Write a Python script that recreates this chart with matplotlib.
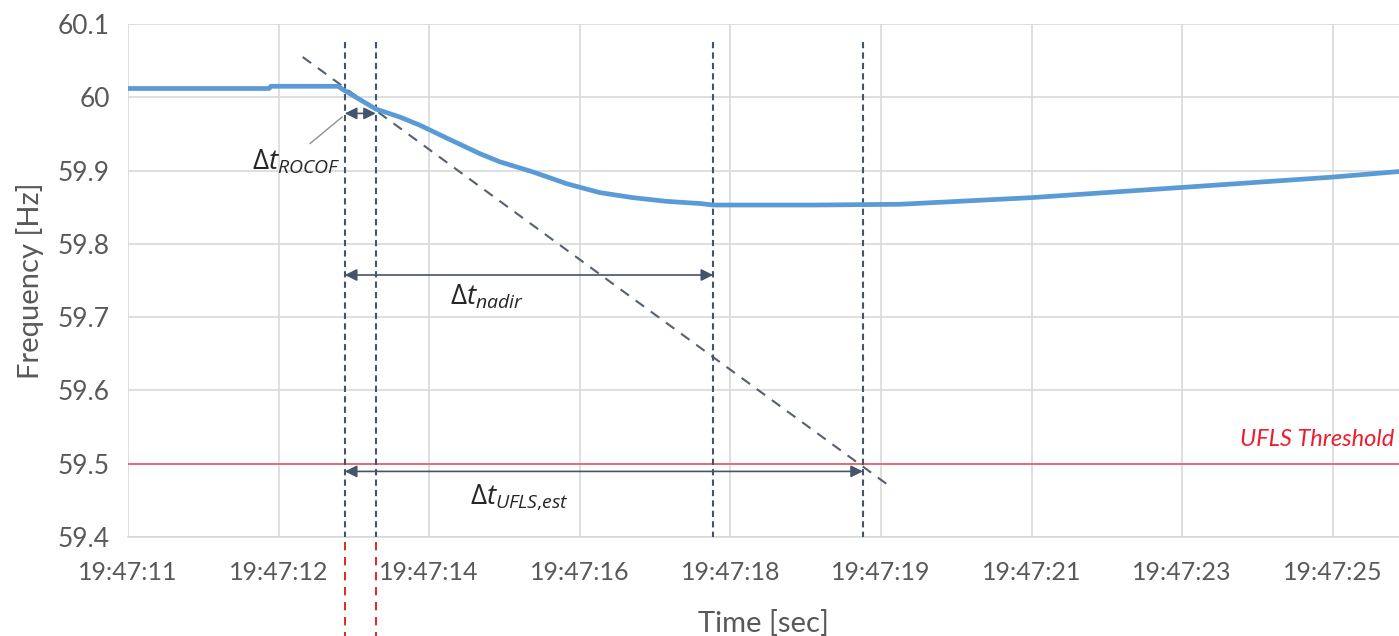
import matplotlib
matplotlib.use("Agg")
import matplotlib.pyplot as plt

plt.rcParams['font.family'] = ['Lato', 'DejaVu Sans']
plt.rcParams['mathtext.fontset'] = 'custom'
plt.rcParams['mathtext.it'] = 'Open Sans:italic'
plt.rcParams['mathtext.rm'] = 'Open Sans'

# seconds after 19:47:11
time_s = [0, 1.64, 1.66, 2.44, 2.52, 2.88, 3.16, 3.39, 3.71, 4.09, 4.32, 4.71,
          5.10, 5.48, 5.87, 6.26, 6.65, 6.80, 8.0, 8.97, 10.49, 12.25, 13.99, 14.8]
freq_hz = [60.012, 60.012, 60.015, 60.015, 60.009, 59.984, 59.973, 59.962, 59.944,
           59.923, 59.912, 59.898, 59.882, 59.870, 59.863, 59.858, 59.855, 59.853,
           59.853, 59.854, 59.863, 59.877, 59.891, 59.899]

tick_pos = [0, 1.75, 3.5, 5.25, 7.0, 8.75, 10.5, 12.25, 14.0]
tick_labels = ['19:47:11', '19:47:12', '19:47:14', '19:47:16', '19:47:18',
               '19:47:19', '19:47:21', '19:47:23', '19:47:25']
y_ticks = [59.4, 59.5, 59.6, 59.7, 59.8, 59.9, 60.0, 60.1]
y_labels = ['59.4', '59.5', '59.6', '59.7', '59.8', '59.9', '60', '60.1']

t_start, t_rocof, t_nadir, t_ufls = 2.52, 2.88, 6.80, 8.54
ufls_threshold = 59.5
tangent_t = [2.03, 8.89]
tangent_f = [60.055, 59.466]

fig = plt.figure(figsize=(13.99, 6.36), dpi=100)
ax = fig.add_axes([128 / 1399, 1 - 537 / 636, 1 - 128 / 1399, 513 / 636])

ax.set_xlim(0, 14.77)
ax.set_ylim(59.4, 60.1)
ax.set_xticks(tick_pos)
ax.set_xticklabels(tick_labels)
ax.set_yticks(y_ticks)
ax.set_yticklabels(y_labels)
ax.tick_params(length=0, colors='#595959')
ax.tick_params(axis='x', pad=17, labelsize=18)
ax.tick_params(axis='y', pad=13, labelsize=19)
ax.grid(True, color='#d9d9d9', linewidth=1.2)
for s in ['top', 'right', 'left']:
    ax.spines[s].set_visible(False)
ax.spines['bottom'].set_color('#d9d9d9')
ax.spines['bottom'].set_linewidth(1.2)

ax.set_xlabel('Time [sec]', fontsize=21, color='#595959', labelpad=19)
ax.set_ylabel('Frequency [Hz]', fontsize=21, color='#595959', labelpad=10)

# threshold
ax.axhline(ufls_threshold, color='#e05a5f', linewidth=1.2, zorder=2)
ax.text(14.72, 59.533, 'UFLS Threshold', color='#ee1c2c', fontsize=17,
        style='italic', ha='right', va='center')

# frequency trace
ax.plot(time_s, freq_hz, color='#5b9bd5', linewidth=3.4, zorder=4)

# ROCOF tangent
ax.plot(tangent_t, tangent_f, color='#556070', linewidth=1.5,
        dashes=(5, 4), zorder=3)

# event markers
for t in [t_start, t_rocof, t_nadir, t_ufls]:
    ax.plot([t, t], [60.075, 59.4], color='#44546a', linewidth=1.5,
            dashes=(3, 2), zorder=3)
for t in [t_start, t_rocof]:
    ax.plot([t, t], [59.393, 59.26], color='#e00000', linewidth=1.2,
            dashes=(5, 4), clip_on=False)

arrow = dict(arrowstyle='<|-|>', color='#44546a', linewidth=1.2,
             mutation_scale=18, shrinkA=0, shrinkB=0)
ax.annotate('', xy=(t_start, 59.978), xytext=(t_rocof, 59.978), arrowprops=arrow, zorder=5)
ax.annotate('', xy=(t_start, 59.7575), xytext=(t_nadir, 59.7575), arrowprops=arrow)
ax.annotate('', xy=(t_start, 59.4895), xytext=(t_ufls, 59.4895), arrowprops=arrow)

ax.plot([2.117, 2.487], [59.937, 59.973], color='#909090', linewidth=1)
ax.text(1.96, 59.912, r'$\mathit{\Delta t}_{ROCOF}$', fontsize=20, ha='center', va='center',
        color='#262626')
ax.text(4.17, 59.728, r'$\mathit{\Delta t}_{nadir}$', fontsize=20, ha='center', va='center',
        color='#262626')
ax.text(4.55, 59.455, r'$\mathit{\Delta t}_{UFLS{,}est}$', fontsize=20, ha='center', va='center',
        color='#262626')

fig.savefig('out.png', dpi=100)
